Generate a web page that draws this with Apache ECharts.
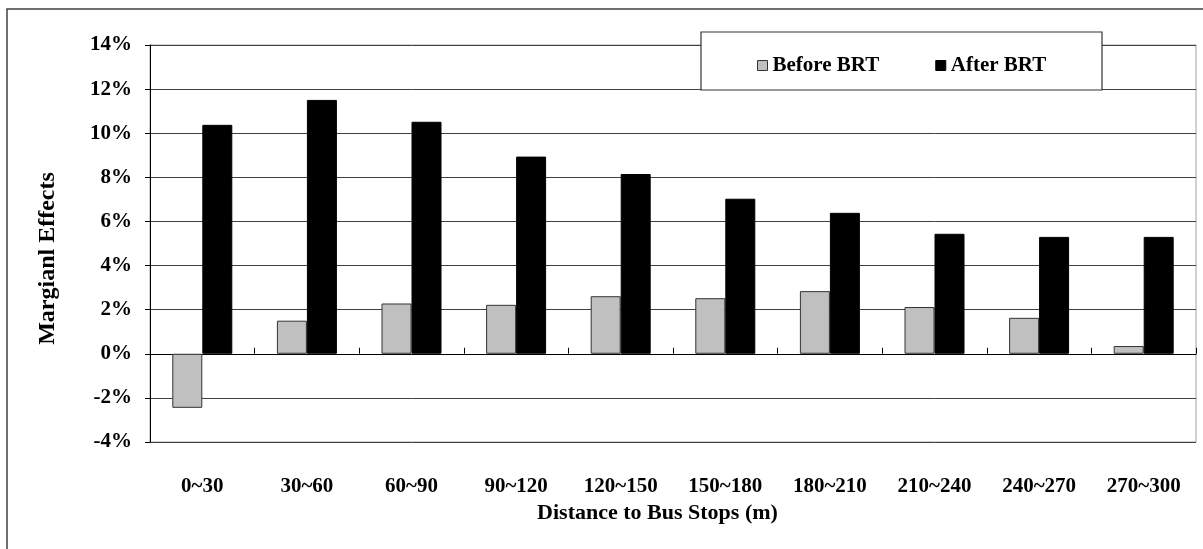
<!DOCTYPE html>
<html>
<head>
<meta charset="utf-8">
<script src="https://cdn.jsdelivr.net/npm/echarts@6/dist/echarts.min.js"></script>
<style>
  html, body { margin: 0; padding: 0; background: #fff; }
  #chart { width: 1203px; height: 549px; }
</style>
</head>
<body>
<div id="chart"></div>
<script>
const categories = ['0~30', '30~60', '60~90', '90~120', '120~150', '150~180', '180~210', '210~240', '240~270', '270~300'];
const beforeBRT = [-2.45, 1.50, 2.28, 2.22, 2.61, 2.52, 2.84, 2.12, 1.63, 0.35];
const afterBRT = [10.38, 11.51, 10.52, 8.94, 8.15, 7.03, 6.39, 5.44, 5.30, 5.30];
const seriesNames = ['Before BRT', 'After BRT'];
const xTitle = 'Distance to Bus Stops (m)';
const yTitle = 'Margianl Effects';

const FONT = '"Liberation Serif", "Times New Roman", serif';
const chart = echarts.init(document.getElementById('chart'), null, { renderer: 'canvas' });

chart.setOption({
  backgroundColor: '#fff',
  animation: false,
  textStyle: { fontFamily: FONT },
  graphic: [
    { type: 'rect', z: 0, shape: { x: 7, y: 9, width: 1220, height: 560 },
      style: { fill: 'none', stroke: '#404040', lineWidth: 1.5 } },
    { type: 'rect', z: 50, shape: { x: 701, y: 32, width: 401, height: 58 },
      style: { fill: '#fff', stroke: '#333', lineWidth: 1.2 } }
  ],
  legend: {
    z: 60,
    left: 752, top: 50,
    itemWidth: 10, itemHeight: 10, itemGap: 56,
    icon: 'rect',
    textStyle: { fontFamily: FONT, fontWeight: 'bold', fontSize: 21, color: '#000' },
    data: [
      { name: seriesNames[0], itemStyle: { color: '#c0c0c0', borderColor: '#333', borderWidth: 1 } },
      { name: seriesNames[1], itemStyle: { color: '#000', borderColor: '#000', borderWidth: 1 } }
    ]
  },
  grid: { left: 150, right: 7, top: 45, bottom: 107, show: true, borderColor: '#a0a0a0', borderWidth: 1, backgroundColor: 'transparent' },
  xAxis: [
    {
      type: 'category', data: categories, position: 'bottom',
      axisLine: { show: false, onZero: false },
      axisTick: { show: false },
      axisLabel: { margin: 34, fontFamily: FONT, fontWeight: 'bold', fontSize: 21, color: '#000' },
      name: xTitle, nameLocation: 'middle', nameGap: 53,
      nameTextStyle: { fontFamily: FONT, fontWeight: 'bold', fontSize: 22, color: '#000', padding: [0, 31, 0, 0] }
    },
    {
      type: 'category', data: categories, position: 'bottom',
      axisLine: { show: true, onZero: true, lineStyle: { color: '#000', width: 1 } },
      axisTick: { show: true, inside: true, length: 6, lineStyle: { color: '#000' } },
      axisLabel: { show: false }
    }
  ],
  yAxis: {
    type: 'value', min: -4, max: 14, interval: 2,
    axisLine: { show: true, lineStyle: { color: '#000', width: 1 } },
    axisTick: { show: true, length: 5, lineStyle: { color: '#000' } },
    axisLabel: { formatter: '{value}%', margin: 18, fontFamily: FONT, fontWeight: 'bold', fontSize: 21, color: '#000' },
    splitLine: { show: true, lineStyle: { color: '#404040', width: 1 } },
    name: yTitle, nameLocation: 'middle', nameGap: 90, nameRotate: 90,
    nameTextStyle: { fontFamily: FONT, fontWeight: 'bold', fontSize: 24, color: '#000', padding: [0, 0, 0, -30] }
  },
  series: [
    {
      name: seriesNames[0], type: 'bar', data: beforeBRT, xAxisIndex: 0,
      barWidth: 30, barGap: '0%',
      itemStyle: { color: '#c0c0c0', borderColor: '#333', borderWidth: 1 }
    },
    {
      name: seriesNames[1], type: 'bar', data: afterBRT, xAxisIndex: 0,
      barWidth: 30, barGap: '0%',
      itemStyle: { color: '#000', borderColor: '#000', borderWidth: 1 }
    }
  ]
});
</script>
</body>
</html>
